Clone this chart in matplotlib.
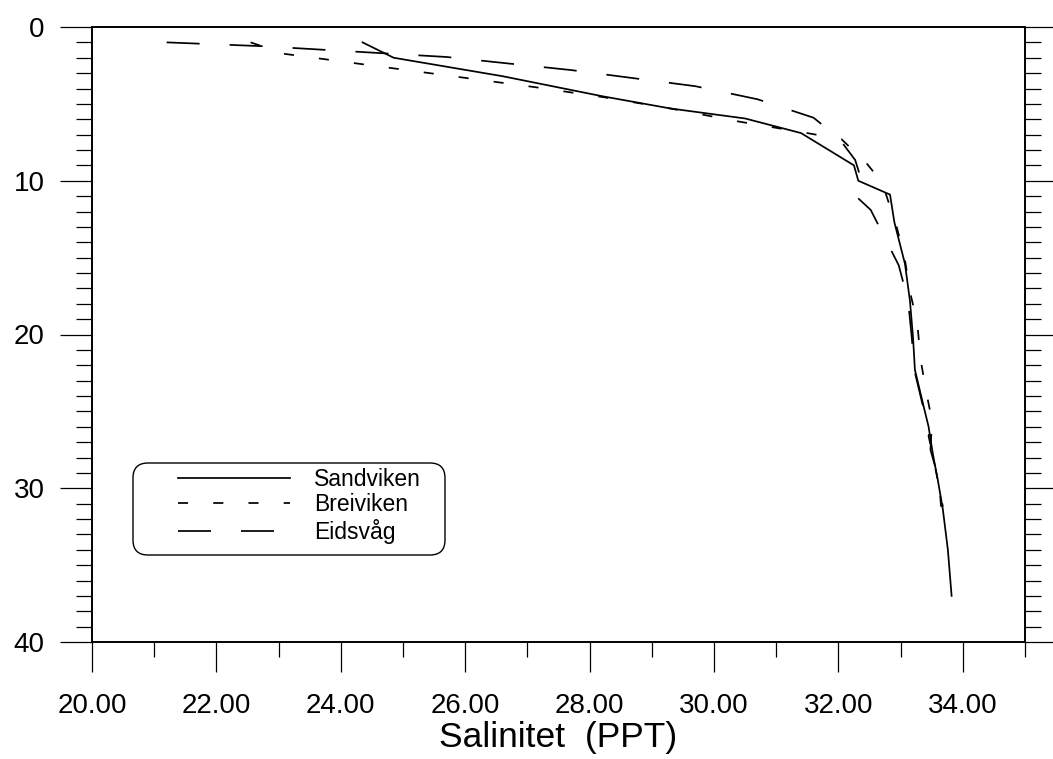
import matplotlib
matplotlib.use("Agg")
import matplotlib.pyplot as plt
from matplotlib.patches import FancyBboxPatch
from matplotlib.ticker import MultipleLocator, FormatStrFormatter

# Salinitet (PPT) mot dyp (m), lest av figuren
sandviken_sal = [24.35, 24.85, 26.6, 28.2, 29.3, 30.5, 31.4, 32.25, 32.32, 32.83,
                 32.9, 33.07, 33.15, 33.2, 33.23, 33.36, 33.45, 33.52, 33.6, 33.68,
                 33.76, 33.82]
sandviken_dyp = [1.0, 2.0, 3.2, 4.5, 5.3, 5.95, 6.9, 9.0, 10.0, 10.9,
                 12.7, 15.4, 17.8, 20.2, 22.3, 24.5, 26.0, 27.8, 29.5, 31.4,
                 34.0, 37.0]

breiviken_sal = [22.55, 23.1, 27.1, 28.2, 29.3, 30.4, 31.5, 32.05, 32.45, 32.6,
                 32.75, 32.93, 33.06, 33.15, 33.27, 33.32, 33.42, 33.5, 33.45,
                 33.55, 33.68]
breiviken_dyp = [1.0, 1.75, 3.9, 4.55, 5.3, 6.15, 6.9, 7.3, 8.85, 9.6,
                 10.7, 12.9, 14.9, 17.2, 19.3, 21.6, 23.9, 25.5, 26.6,
                 28.5, 31.2]

eidsvag_sal = [21.2, 22.75, 25.7, 27.7, 29.7, 30.7, 31.6, 32.0, 32.27, 32.4,
               32.28, 32.52, 32.97, 33.12, 33.18, 33.22, 33.35, 33.5, 33.48,
               33.62, 33.65]
eidsvag_dyp = [1.0, 1.25, 1.95, 2.8, 3.85, 4.7, 5.9, 7.2, 8.65, 10.35,
               11.0, 11.9, 15.5, 17.8, 20.2, 22.3, 24.5, 26.0, 27.5,
               29.5, 31.2]

x_major = [20, 22, 24, 26, 28, 30, 32, 34]
y_major = [0, 10, 20, 30, 40]

W, H = 1053, 759
plt.rcParams['font.family'] = ['Liberation Sans', 'DejaVu Sans']

fig = plt.figure(figsize=(W / 100, H / 100), dpi=100)
ax = fig.add_axes([92 / W, 1 - 642 / H, (1025 - 92) / W, (642 - 27) / H])

lw = 1.25
ax.plot(sandviken_sal, sandviken_dyp, color='black', lw=lw, label='Sandviken')
ax.plot(breiviken_sal, breiviken_dyp, color='black', lw=lw,
        linestyle=(0, (5.8, 14.5)), label='Breiviken')
ax.plot(eidsvag_sal, eidsvag_dyp, color='black', lw=lw,
        linestyle=(0, (19, 17.3)), label='Eidsvåg')

ax.set_xlim(20, 35)
ax.set_ylim(40, 0)
ax.set_xticks(x_major)
ax.xaxis.set_major_formatter(FormatStrFormatter('%.2f'))
ax.xaxis.set_minor_locator(MultipleLocator(1))
ax.set_yticks(y_major)
ax.yaxis.set_minor_locator(MultipleLocator(1))

for s in ax.spines.values():
    s.set_linewidth(1.4)

ax.tick_params(axis='x', which='major', direction='out', length=21.5, width=0.9,
               labelsize=20, pad=15, top=False)
ax.tick_params(axis='x', which='minor', direction='out', length=11, width=0.9, top=False)
ax.tick_params(axis='y', which='major', direction='out', length=23, width=0.9,
               labelsize=20, pad=11, right=True)
ax.tick_params(axis='y', which='minor', direction='out', length=11.5, width=0.9, right=True)

ax.set_xlabel('Salinitet  (PPT)', fontsize=25.5, labelpad=2)

# legendeboks med runde hjørner (piksler)
box = FancyBboxPatch((133, H - 555), 312, 92,
                     boxstyle="round,pad=0,rounding_size=15",
                     transform=None, fill=False, ec='black', lw=1.0)
fig.add_artist(box)
ax.legend(loc='upper left', bbox_to_anchor=(178 / W, 1 - 468 / H),
          bbox_transform=fig.transFigure, frameon=False, borderpad=0,
          borderaxespad=0, handlelength=4.9, handletextpad=1.05,
          labelspacing=0.1, fontsize=16.5)

fig.savefig('out.png', dpi=100)
